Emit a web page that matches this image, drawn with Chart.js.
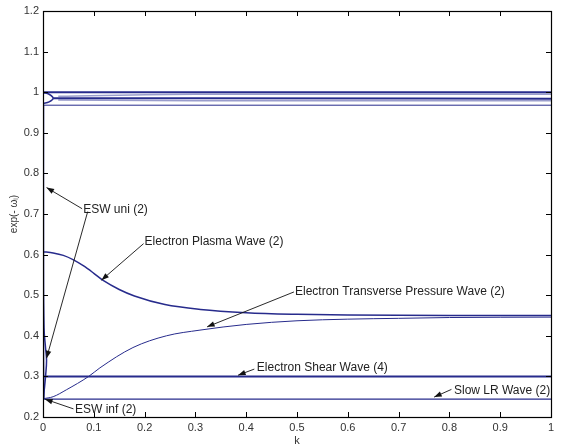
<!DOCTYPE html>
<html>
<head>
<meta charset="utf-8">
<script src="https://cdn.jsdelivr.net/npm/chart.js@4.4.1/dist/chart.umd.min.js"></script>
<style>
  html, body { margin: 0; padding: 0; background: #fff; }
  #wrap { width: 561px; height: 448px; }
</style>
</head>
<body>
<div id="wrap"><canvas id="chart"></canvas></div>
<script>
// tick labels
const xTicks = [0, 0.1, 0.2, 0.3, 0.4, 0.5, 0.6, 0.7, 0.8, 0.9, 1];
const yTicks = [0.2, 0.3, 0.4, 0.5, 0.6, 0.7, 0.8, 0.9, 1, 1.1, 1.2];

// Electron Plasma Wave (2)
const plasmaK = [0, 0.02, 0.04, 0.06, 0.08, 0.1, 0.12, 0.15, 0.18, 0.24, 0.31, 0.4, 0.5, 0.6, 0.8, 1];
const plasmaV = [0.607, 0.604, 0.598, 0.587, 0.572, 0.554, 0.535, 0.514, 0.498, 0.477, 0.465, 0.457, 0.453, 0.451, 0.45, 0.45];

// Electron Transverse Pressure Wave (2)
const transK = [0, 0.02, 0.046, 0.09, 0.112, 0.177, 0.243, 0.309, 0.4, 0.5, 0.6, 0.7, 0.8, 1];
const transV = [0.245, 0.25, 0.267, 0.3, 0.321, 0.371, 0.4, 0.414, 0.428, 0.437, 0.441, 0.443, 0.445, 0.446];

// Electron Shear Wave (4) and Slow LR Wave (2)
const flatK = [0, 1];
const shearV = [0.3, 0.3];
const slowV = [0.244, 0.244];

// branches close to 1
const topK = [0, 0.5, 1];
const topA = [1.0, 1.0, 1.0];
const topE = [0.968, 0.968, 0.968];
const topBK = [0.03, 0.3, 1];
const topB = [0.99, 0.995, 0.995];
const topCK = [0.02, 0.3, 1];
const topC = [0.985, 0.985, 0.984];
const topDK = [0.03, 0.3, 1];
const topD = [0.981, 0.979, 0.979];
const loopK = [0, 0.012, 0.02, 0.012, 0];
const loopV = [0.999, 0.995, 0.985, 0.976, 0.972];

// ESW uni (2) / ESW inf (2) near k = 0
const eswUniK = [0.001, 0.001, 0.002, 0.005, 0.007, 0.005, 0.002, 0.001];
const eswUniV = [0.97, 0.6, 0.42, 0.37, 0.34, 0.3, 0.26, 0.244];
const eswInfK = [0, 0, 0.001];
const eswInfV = [0.97, 0.5, 0.244];

const dark = '#272b8c';
const light = '#9a9dcc';

function pts(ks, vs) { return ks.map((k, i) => ({ x: k, y: vs[i] })); }

function series(ks, vs, color, width, mono) {
  return {
    data: pts(ks, vs),
    borderColor: color,
    borderWidth: width,
    pointRadius: 0,
    fill: false,
    tension: 0.4,
    cubicInterpolationMode: mono ? 'monotone' : 'default'
  };
}

const datasets = [
  series(topK, topA, dark, 2, true),
  series(topBK, topB, light, 1.5, true),
  series(topCK, topC, dark, 2, true),
  series(topDK, topD, light, 1.5, true),
  series(topK, topE, dark, 1, true),
  series(loopK, loopV, dark, 1.5, false),
  series(eswInfK, eswInfV, dark, 2, false),
  series(eswUniK, eswUniV, dark, 1.5, false),
  series(plasmaK, plasmaV, dark, 1.5, true),
  series(transK, transV, dark, 1, true),
  series(flatK, shearV, dark, 2, true),
  series(flatK, slowV, dark, 1.2, true)
];

// annotation text with arrow tail and head, in data units
const notes = [
  { text: 'ESW uni (2)', at: [0.079, 0.71], arrows: [[0.077, 0.713, 0.007, 0.765], [0.088, 0.706, 0.007, 0.345]] },
  { text: 'Electron Plasma Wave (2)', at: [0.2, 0.631], arrows: [[0.198, 0.627, 0.115, 0.537]] },
  { text: 'Electron Transverse Pressure Wave (2)', at: [0.496, 0.509], arrows: [[0.494, 0.508, 0.323, 0.422]] },
  { text: 'Electron Shear Wave (4)', at: [0.421, 0.321], arrows: [[0.416, 0.318, 0.384, 0.303]] },
  { text: 'Slow LR Wave (2)', at: [0.809, 0.265], arrows: [[0.804, 0.268, 0.77, 0.249]] },
  { text: 'ESW inf (2)', at: [0.063, 0.217], arrows: [[0.06, 0.22, 0.004, 0.244]] }
];

const frame = {
  id: 'frame',
  afterDatasetsDraw(chart) {
    const { ctx, chartArea: a, scales: { x, y } } = chart;
    ctx.save();
    // inward ticks on four sides
    ctx.strokeStyle = '#000';
    ctx.lineWidth = 1;
    ctx.beginPath();
    xTicks.forEach(v => {
      const px = Math.round(x.getPixelForValue(v)) + 0.5;
      ctx.moveTo(px, a.bottom); ctx.lineTo(px, a.bottom - 5);
      ctx.moveTo(px, a.top); ctx.lineTo(px, a.top + 5);
    });
    yTicks.forEach(v => {
      const py = Math.round(y.getPixelForValue(v)) + 0.5;
      ctx.moveTo(a.left, py); ctx.lineTo(a.left + 5, py);
      ctx.moveTo(a.right, py); ctx.lineTo(a.right - 5, py);
    });
    ctx.stroke();
    ctx.lineWidth = 1.2;
    ctx.strokeRect(Math.round(a.left) + 0.5, Math.round(a.top) + 0.5,
      Math.round(a.right - a.left), Math.round(a.bottom - a.top));

    // annotations
    ctx.font = '12px "Liberation Sans", Arial, sans-serif';
    ctx.fillStyle = '#222';
    ctx.textBaseline = 'middle';
    notes.forEach(n => {
      ctx.fillText(n.text, x.getPixelForValue(n.at[0]), y.getPixelForValue(n.at[1]));
      n.arrows.forEach(r => {
        const x0 = x.getPixelForValue(r[0]), y0 = y.getPixelForValue(r[1]);
        const x1 = x.getPixelForValue(r[2]), y1 = y.getPixelForValue(r[3]);
        const ang = Math.atan2(y1 - y0, x1 - x0);
        ctx.strokeStyle = '#111';
        ctx.lineWidth = 0.9;
        ctx.beginPath();
        ctx.moveTo(x0, y0); ctx.lineTo(x1, y1);
        ctx.stroke();
        ctx.beginPath();
        ctx.moveTo(x1, y1);
        ctx.lineTo(x1 - 8 * Math.cos(ang - 0.35), y1 - 8 * Math.sin(ang - 0.35));
        ctx.lineTo(x1 - 8 * Math.cos(ang + 0.35), y1 - 8 * Math.sin(ang + 0.35));
        ctx.closePath();
        ctx.fillStyle = '#111';
        ctx.fill();
        ctx.fillStyle = '#222';
      });
    });
    ctx.restore();
  }
};

const tickFont = { family: '"Liberation Sans", Arial, sans-serif', size: 11 };

new Chart(document.getElementById('chart'), {
  type: 'line',
  data: { datasets },
  options: {
    responsive: true,
    maintainAspectRatio: false,
    animation: false,
    layout: { padding: { top: 11, right: 10, left: 0, bottom: 0 } },
    plugins: { legend: { display: false }, tooltip: { enabled: false } },
    scales: {
      x: {
        type: 'linear',
        min: 0, max: 1,
        afterBuildTicks: s => { s.ticks = xTicks.map(v => ({ value: v })); },
        afterFit: s => { s.height = 31; },
        grid: { display: false, drawTicks: false },
        border: { display: false },
        ticks: { font: tickFont, color: '#333', padding: 4, maxRotation: 0,
          callback: v => String(Number(v.toFixed(1))) },
        title: { display: true, text: 'k', font: tickFont, color: '#333', padding: 0 }
      },
      y: {
        type: 'linear',
        min: 0.2, max: 1.2,
        afterBuildTicks: s => { s.ticks = yTicks.map(v => ({ value: v })); },
        afterFit: s => { s.width = 43; },
        grid: { display: false, drawTicks: false },
        border: { display: false },
        ticks: { font: tickFont, color: '#333', padding: 4,
          callback: v => String(Number(v.toFixed(1))) },
        title: { display: true, text: 'exp(- ωᵢ)', font: { family: '"Liberation Sans", Arial, sans-serif', size: 10 }, color: '#333', padding: { top: 8, bottom: 0 } }
      }
    }
  },
  plugins: [frame]
});
</script>
</body>
</html>
